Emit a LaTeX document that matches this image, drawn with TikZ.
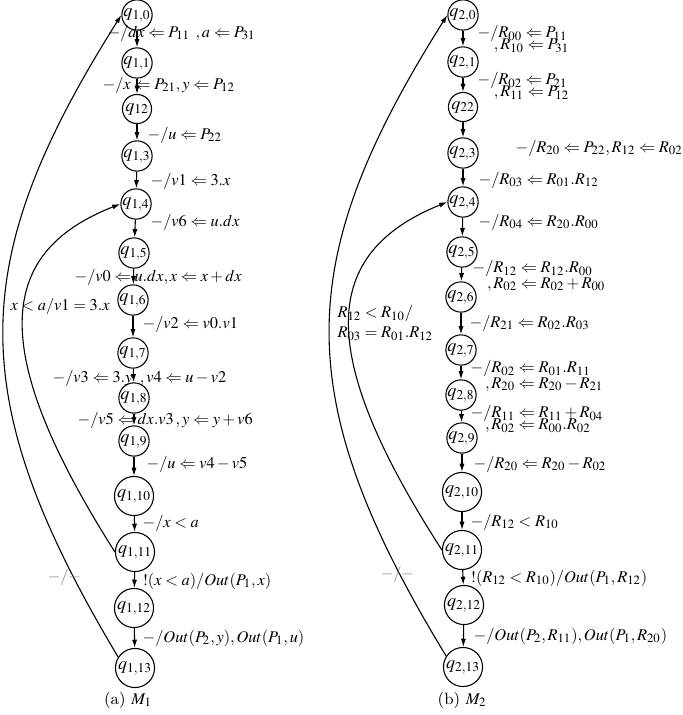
\documentclass[tikz,border=0pt]{standalone}
\usepackage{amsmath,amssymb}
\usepackage{mathptmx}
\usepackage{tikz}
\usetikzlibrary{arrows.meta}
\tikzset{
  stt/.style={circle, draw, inner sep=0pt, minimum size=16pt},
  sttw/.style={stt, minimum size=21.5pt},
  lbl/.style={anchor=west, inner sep=0pt, align=left, font=\fontsize{9}{10.8}\selectfont},
  >={Latex[length=4.5pt,width=2.8pt]}
}

\begin{document}
\begin{tikzpicture}[x=0.55pt, y=-0.55pt, line width=0.6pt]
  \useasboundingbox (0,0) rectangle (682,715);
  % M1 states
  \node[stt]  (a0)  at (137,15)  {$q_{1,0}$};
  \node[stt]  (a1)  at (137,63)  {$q_{1,1}$};
  \node[stt]  (a2)  at (137,109) {$q_{12}$};
  \node[stt]  (a3)  at (137,156) {$q_{1,3}$};
  \node[stt]  (a4)  at (136,204) {$q_{1,4}$};
  \node[stt]  (a5)  at (134,253) {$q_{1,5}$};
  \node[stt]  (a6)  at (133,300) {$q_{1,6}$};
  \node[stt]  (a7)  at (133,353) {$q_{1,7}$};
  \node[stt]  (a8)  at (134,398) {$q_{1,8}$};
  \node[stt]  (a9)  at (134,441) {$q_{1,9}$};
  \node[sttw] (a10) at (134,496) {$q_{1,10}$};
  \node[sttw] (a11) at (135,552) {$q_{1,11}$};
  \node[sttw] (a12) at (134,608) {$q_{1,12}$};
  \node[sttw] (a13) at (135,668) {$q_{1,13}$};
  \node[font=\fontsize{9}{10.8}\selectfont] (capa) at (128,700) {(a) $M_1$};
  % M1 transitions
  \draw[->] (a0)--(a1);
  \draw[->] (a1)--(a2);
  \draw[->] (a2)--(a3);
  \draw[->] (a3)--(a4);
  \draw[->] (a4)--(a5);
  \draw[->] (a5)--(a6);
  \draw[->] (a6)--(a7);
  \draw[->] (a7)--(a8);
  \draw[->] (a8)--(a9);
  \draw[->] (a9)--(a10);
  \draw[->] (a10)--(a11);
  \draw[->] (a11)--(a12);
  \draw[->] (a12)--(a13);
  \draw[->] (a11.west) .. controls (-12,352) and (-5,253) .. (a4.west);
  \draw[->] (a13.147) .. controls (-38,396) and (-33,260) .. (a0.west);
  % M1 labels
  \node[lbl] (la0)  at (107,33)  {$-/dx \Leftarrow P_{11}\ ,a \Leftarrow P_{31}$};
  \node[lbl] (la1)  at (102,85)  {$-/x \Leftarrow P_{21},y \Leftarrow P_{12}$};
  \node[lbl] (la2)  at (147,135) {$-/u \Leftarrow P_{22}$};
  \node[lbl] (la3)  at (150,181) {$-/v1 \Leftarrow 3.x$};
  \node[lbl] (la4)  at (150,222) {$-/v6 \Leftarrow u.dx$};
  \node[lbl] (la5)  at (74,277)  {$-/v0 \Leftarrow u.dx,x \Leftarrow x+dx$};
  \node[lbl] (la6)  at (142,324) {$-/v2 \Leftarrow v0.v1$};
  \node[lbl] (la7)  at (52,378)  {$-/v3 \Leftarrow 3.y\ \,,v4 \Leftarrow u-v2$};
  \node[lbl] (la8)  at (77,420)  {$-/v5 \Leftarrow dx.v3\,,y \Leftarrow y+v6$};
  \node[lbl] (la9)  at (146,464) {$-/u \Leftarrow v4-v5$};
  \node[lbl] (la10) at (142,523) {$-/x<a$};
  \node[lbl] (la11) at (142,581) {$!(x<a)/Out(P_1,x)$};
  \node[lbl] (la12) at (142,638) {$-/Out(P_2,y),Out(P_1,u)$};
  \node[lbl] (lla)  at (10,306)  {$x<a/v1=3.x$};
  \node[lbl, gray] (lra) at (47,577) {$-/-$};

  % M2 states
  \node[stt]  (b0)  at (463,15)  {$q_{2,0}$};
  \node[stt]  (b1)  at (463,62)  {$q_{2,1}$};
  \node[stt]  (b2)  at (463,107) {$q_{22}$};
  \node[stt]  (b3)  at (463,153) {$q_{2,3}$};
  \node[stt]  (b4)  at (463,202) {$q_{2,4}$};
  \node[stt]  (b5)  at (462,252) {$q_{2,5}$};
  \node[stt]  (b6)  at (461,297) {$q_{2,6}$};
  \node[stt]  (b7)  at (461,350) {$q_{2,7}$};
  \node[stt]  (b8)  at (461,395) {$q_{2,8}$};
  \node[stt]  (b9)  at (462,438) {$q_{2,9}$};
  \node[sttw] (b10) at (462,492) {$q_{2,10}$};
  \node[sttw] (b11) at (462,550) {$q_{2,11}$};
  \node[sttw] (b12) at (464,605) {$q_{2,12}$};
  \node[sttw] (b13) at (463,667) {$q_{2,13}$};
  \node[font=\fontsize{9}{10.8}\selectfont] (capb) at (462,700) {(b) $M_2$};
  % M2 transitions
  \draw[->] (b0)--(b1);
  \draw[->] (b1)--(b2);
  \draw[->] (b2)--(b3);
  \draw[->] (b3)--(b4);
  \draw[->] (b4)--(b5);
  \draw[->] (b5)--(b6);
  \draw[->] (b6)--(b7);
  \draw[->] (b7)--(b8);
  \draw[->] (b8)--(b9);
  \draw[->] (b9)--(b10);
  \draw[->] (b10)--(b11);
  \draw[->] (b11)--(b12);
  \draw[->] (b12)--(b13);
  \draw[->] (b11.west) .. controls (314,352) and (321,253) .. (b4.west);
  \draw[->] (b13.147) .. controls (288,396) and (293,260) .. (b0.west);
  % M2 labels
  \node[lbl] (lb0)  at (477,39)  {$-/R_{00} \Leftarrow P_{11}$\\[-4.2pt]\hspace*{9pt}$,R_{10} \Leftarrow P_{31}$};
  \node[lbl] (lb1)  at (477,86)  {$-/R_{02} \Leftarrow P_{21}$\\[-4.2pt]\hspace*{9pt}$,R_{11} \Leftarrow P_{12}$};
  \node[lbl] (lb2)  at (515,148) {$-/R_{20} \Leftarrow P_{22},R_{12} \Leftarrow R_{02}$};
  \node[lbl] (lb3)  at (478,180) {$-/R_{03} \Leftarrow R_{01}.R_{12}$};
  \node[lbl] (lb4)  at (478,222) {$-/R_{04} \Leftarrow R_{20}.R_{00}$};
  \node[lbl] (lb5)  at (472,276) {$-/R_{12} \Leftarrow R_{12}.R_{00}$\\[-2.5pt]\hspace*{8pt}$,R_{02} \Leftarrow R_{02}+R_{00}$};
  \node[lbl] (lb6)  at (469,323) {$-/R_{21} \Leftarrow R_{02}.R_{03}$};
  \node[lbl] (lb7)  at (470,376) {$-/R_{02} \Leftarrow R_{01}.R_{11}$\\[-2.5pt]\hspace*{8pt}$,R_{20} \Leftarrow R_{20}-R_{21}$};
  \node[lbl] (lb8)  at (470,419) {$-/R_{11} \Leftarrow R_{11}+R_{04}$\\[-4.2pt]\hspace*{8pt}$,R_{02} \Leftarrow R_{00}.R_{02}$};
  \node[lbl] (lb9)  at (473,464) {$-/R_{20} \Leftarrow R_{20}-R_{02}$};
  \node[lbl] (lb10) at (470,522) {$-/R_{12}<R_{10}$};
  \node[lbl] (lb11) at (470,578) {$!(R_{12}<R_{10})/Out(P_1,R_{12})$};
  \node[lbl] (lb12) at (473,636) {$-/Out(P_2,R_{11}),Out(P_1,R_{20})$};
  \node[lbl] (llb)  at (337,323) {$R_{12}<R_{10}/$\\$R_{03}=R_{01}.R_{12}$};
  \node[lbl, gray] (lrb) at (380,574) {$-/-$};
\end{tikzpicture}
\end{document}
